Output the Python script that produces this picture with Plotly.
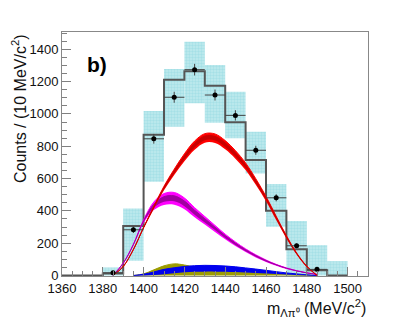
import plotly.graph_objects as go
import numpy as np

# ---------------- data ----------------
hist_centers = [1365, 1375, 1385, 1395, 1405, 1415, 1425, 1435, 1445, 1455, 1465, 1475, 1485, 1495]
hist_counts = [0, 0, 13, 306, 871, 1212, 1264, 1175, 948, 715, 401, 162, 33, 0]

box_centers = [1385, 1395, 1405, 1415, 1425, 1435, 1445, 1455, 1465, 1475, 1485, 1495]
box_low = [0, 91, 580, 921, 1066, 946, 849, 632, 302, 0, 0, 0]
box_high = [50, 415, 1018, 1278, 1447, 1303, 1138, 890, 566, 337, 188, 89]

data_x = [1385, 1395, 1405, 1415, 1425, 1435, 1445, 1455, 1465, 1475, 1485]
data_y = [17, 283, 846, 1103, 1274, 1117, 991, 775, 481, 184, 38]
data_err = [5, 20, 30, 34, 36, 34, 32, 28, 22, 14, 6]

curve_x = [1385, 1390, 1395, 1400, 1405, 1410, 1415, 1420, 1425, 1430, 1435,
           1440, 1445, 1450, 1455, 1460, 1465, 1470, 1475, 1480, 1485]
red_center = [0, 55, 160, 295, 420, 540, 640, 730, 805, 850, 848,
              808, 748, 675, 580, 475, 355, 238, 135, 55, 0]
red_halfwidth = [1, 1, 2, 4, 8, 13, 18, 23, 27, 28, 28,
                 27, 25, 22, 19, 15, 12, 9, 5, 3, 1]
mag_center = [0, 75, 190, 335, 430, 472, 476, 445, 390, 340, 290,
              240, 195, 155, 120, 90, 65, 44, 28, 16, 6]
mag_halfwidth = [1, 2, 4, 10, 25, 35, 38, 35, 30, 25, 20,
                 16, 13, 10, 8, 6, 4, 3, 2, 1, 1]

small_x = [1395, 1400, 1405, 1410, 1415, 1420, 1425, 1430, 1435, 1440,
           1445, 1450, 1455, 1460, 1465, 1470, 1475, 1480, 1485]
olive_high = [0, 10, 35, 60, 72, 65, 52, 42, 35, 30, 26, 22, 18, 14, 10, 7, 4, 2, 0]
olive_low = [0] * 19
blue_high = [0, 8, 22, 38, 48, 56, 61, 63, 62, 59, 54, 47, 40, 32, 24, 16, 10, 4, 0]
blue_low = [0, 0, 3, 8, 14, 20, 23, 24, 24, 23, 21, 18, 15, 12, 9, 6, 3, 1, 0]

y_ticks = [0, 200, 400, 600, 800, 1000, 1200, 1400]
x_ticks = [1360, 1380, 1400, 1420, 1440, 1460, 1480, 1500]

# ---------------- figure ----------------
fig = go.Figure()

# systematic boxes
fig.add_trace(go.Bar(
    x=box_centers,
    y=[h - l for h, l in zip(box_high, box_low)],
    base=box_low, width=10,
    marker=dict(color="#aee3e8", line=dict(width=0),
                pattern=dict(shape=".", fgcolor="#8cd6dd", bgcolor="#bfeaee", size=3, solidity=0.5)),
    showlegend=False, hoverinfo="skip"))

# histogram step line
edges = [c - 5 for c in hist_centers] + [hist_centers[-1] + 5]
fig.add_trace(go.Scatter(
    x=edges, y=hist_counts + [hist_counts[-1]],
    mode="lines", line=dict(shape="hv", color="#555555", width=2),
    showlegend=False, hoverinfo="skip"))


def add_band(x, lo, hi, color):
    fig.add_trace(go.Scatter(x=x, y=lo, mode="lines",
                             line=dict(width=0, shape="spline", color=color),
                             showlegend=False, hoverinfo="skip"))
    fig.add_trace(go.Scatter(x=x, y=hi, mode="lines", fill="tonexty",
                             fillcolor=color,
                             line=dict(width=1, shape="spline", color=color),
                             showlegend=False, hoverinfo="skip"))


add_band(small_x, olive_low, olive_high, "#9c9c00")
add_band(small_x, blue_low, blue_high, "#0000ee")

mc = np.array(mag_center, float)
mw = np.array(mag_halfwidth, float)
add_band(curve_x, list(mc - mw), list(mc + mw), "#ff00ff")
add_band(curve_x, list(mc - 0.45 * mw), list(mc + 0.45 * mw), "#a000a0")

rc = np.array(red_center, float)
rw = np.array(red_halfwidth, float)
add_band(curve_x, list(rc - rw), list(rc + rw), "#ff0000")
add_band(curve_x, list(rc - 0.45 * rw), list(rc + 0.45 * rw), "#c80000")

# data points
fig.add_trace(go.Scatter(
    x=data_x, y=data_y, mode="markers",
    marker=dict(color="black", size=5),
    error_y=dict(type="data", array=data_err, color="#444444", thickness=1, width=0),
    error_x=dict(type="constant", value=5, color="#444444", thickness=1, width=0),
    showlegend=False, hoverinfo="skip"))

tickfont = dict(family="Liberation Sans, Arial", size=13, color="#111111")

fig.update_layout(
    width=401, height=319,
    margin=dict(l=54, r=41, t=24, b=51),
    paper_bgcolor="white", plot_bgcolor="white",
    barmode="overlay",
    xaxis=dict(range=[1360, 1510], tickvals=x_ticks, ticktext=[str(v) for v in x_ticks],
               ticks="inside", ticklen=9, tickcolor="#808080", tickwidth=1,
               minor=dict(dtick=5, ticks="inside", ticklen=5, tickcolor="#808080"),
               showline=True, linecolor="#888888", linewidth=1, mirror=True,
               showgrid=False, zeroline=False, tickfont=tickfont, layer="above traces"),
    yaxis=dict(range=[-3, 1507], tickvals=y_ticks, ticktext=[str(v) for v in y_ticks],
               ticks="inside", ticklen=9, tickcolor="#808080", tickwidth=1,
               minor=dict(dtick=50, ticks="inside", ticklen=5, tickcolor="#808080"),
               showline=True, linecolor="#888888", linewidth=1, mirror=True,
               showgrid=False, zeroline=False, tickfont=tickfont, layer="above traces"),
    annotations=[
        dict(text="<b>b)</b>", x=1371.3, y=1306, xref="x", yref="y", xanchor="left", yanchor="middle",
             showarrow=False, font=dict(family="Liberation Sans, Arial", size=21, color="black")),
        dict(text="Counts / (10 MeV/c<sup>2</sup>)", x=-0.142, y=1.0, xref="paper", yref="paper",
             xanchor="center", yanchor="top", textangle=-90, showarrow=False,
             font=dict(family="Liberation Sans, Arial", size=16, color="#111111")),
        dict(text="m<sub>Λπ⁰</sub> (MeV/c<sup>2</sup>)", x=1.0, y=-0.131, xref="paper", yref="paper",
             xanchor="right", yanchor="middle", showarrow=False,
             font=dict(family="Liberation Sans, Arial", size=16, color="#111111")),
    ],
)

fig.write_html("out.html")
